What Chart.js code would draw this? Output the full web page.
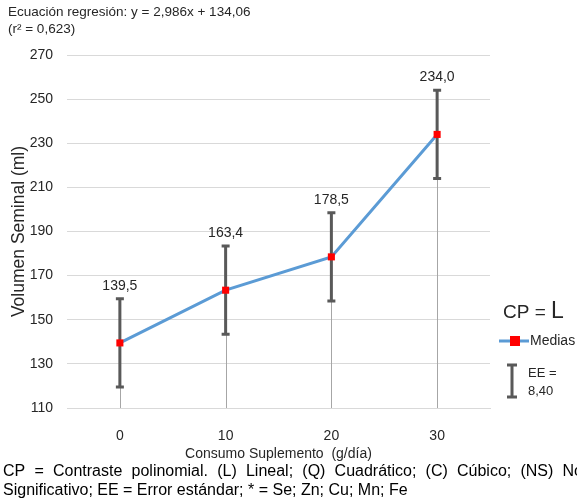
<!DOCTYPE html>
<html lang="es">
<head>
<meta charset="UTF-8">
<title>Volumen Seminal</title>
<script src="https://cdn.jsdelivr.net/npm/chart.js@4.4.1/dist/chart.umd.min.js"></script>
<style>
  body { margin: 0; background: #fff; }
  canvas { display: block; }
</style>
</head>
<body>
<canvas id="myChart" width="577" height="503"></canvas>
<script>
    // data
    const categories = ['0', '10', '20', '30'];
    const medias = [139.5, 163.4, 178.5, 234.0];
    const errorSize = [20, 20, 20, 20];
    const valueLabels = ['139,5', '163,4', '178,5', '234,0'];
    const yMin = 110, yMax = 270, yStep = 20;

    const titleLines = ['Ecuación regresión: y = 2,986x + 134,06', '(r² = 0,623)'];
    const footLine1 = 'CP = Contraste polinomial. (L) Lineal; (Q) Cuadrático; (C) Cúbico; (NS) No';
    const footLine2 = 'Significativo; EE = Error estándar; * = Se; Zn; Cu; Mn; Fe';

    const FONT = '"Liberation Sans", Arial, sans-serif';
    const textColor = '#262626';
    const barColor = '#595959';

    function drawErrorBar(ctx, x, yTop, yBot, cap) {
        ctx.save();
        ctx.strokeStyle = barColor;
        ctx.lineWidth = 3;
        ctx.beginPath();
        ctx.moveTo(x, yTop); ctx.lineTo(x, yBot);
        ctx.moveTo(x - cap, yTop); ctx.lineTo(x + cap, yTop);
        ctx.moveTo(x - cap, yBot); ctx.lineTo(x + cap, yBot);
        ctx.stroke();
        ctx.restore();
    }

    const extras = {
        id: 'extras',
        beforeDatasetsDraw(chart) {
            const ctx = chart.ctx;
            const xs = chart.scales.x, ys = chart.scales.y;
            // drop lines
            ctx.save();
            ctx.strokeStyle = '#a6a6a6';
            ctx.lineWidth = 1;
            medias.forEach((v, i) => {
                const x = Math.round(xs.getPixelForValue(i)) + 0.5;
                ctx.beginPath();
                ctx.moveTo(x, ys.getPixelForValue(v));
                ctx.lineTo(x, chart.chartArea.bottom);
                ctx.stroke();
            });
            ctx.restore();
            // error bars
            medias.forEach((v, i) => {
                const x = xs.getPixelForValue(i);
                drawErrorBar(ctx, x, ys.getPixelForValue(v + errorSize[i]), ys.getPixelForValue(v - errorSize[i]), 4);
            });
        },
        afterDraw(chart) {
            const ctx = chart.ctx;
            const xs = chart.scales.x, ys = chart.scales.y;
            ctx.save();
            ctx.fillStyle = textColor;
            ctx.textAlign = 'center';
            ctx.textBaseline = 'middle';
            ctx.font = '14px ' + FONT;
            medias.forEach((v, i) => {
                ctx.fillText(valueLabels[i], xs.getPixelForValue(i), ys.getPixelForValue(v + errorSize[i]) - 13);
            });

            // regression text
            ctx.textAlign = 'left';
            ctx.font = '13.5px ' + FONT;
            ctx.fillText(titleLines[0], 8, 12);
            ctx.fillText(titleLines[1], 8, 29);

            // legend on the right
            ctx.font = '19px ' + FONT;
            ctx.fillText('CP = ', 503, 313);
            const w = ctx.measureText('CP = ').width;
            ctx.font = '23px ' + FONT;
            ctx.fillText('L', 503 + w, 312);

            ctx.strokeStyle = '#5b9bd5';
            ctx.lineWidth = 3;
            ctx.beginPath();
            ctx.moveTo(499, 341); ctx.lineTo(529, 341);
            ctx.stroke();
            ctx.fillStyle = '#ff0000';
            ctx.fillRect(510, 336, 10, 10);
            ctx.fillStyle = textColor;
            ctx.font = '14px ' + FONT;
            ctx.fillText('Medias', 530, 341);

            drawErrorBar(ctx, 512, 365, 397, 5);
            ctx.fillStyle = textColor;
            ctx.font = '13px ' + FONT;
            ctx.fillText('EE =', 528, 373);
            ctx.fillText('8,40', 528, 391);

            // footnote, first line justified
            ctx.font = '16px ' + FONT;
            ctx.fillStyle = '#000';
            const words = footLine1.split(' ');
            const total = words.reduce((s, t) => s + ctx.measureText(t).width, 0);
            const gap = Math.max(4.4, (583 - 3 - total) / (words.length - 1));
            let px = 3;
            words.forEach(t => {
                ctx.fillText(t, px, 472);
                px += ctx.measureText(t).width + gap;
            });
            ctx.fillText(footLine2, 3, 491);
            ctx.restore();
        }
    };

    const myChart = new Chart('myChart', {
        type: 'line',
        data: {
            labels: categories,
            datasets: [{
                label: 'Medias',
                data: medias,
                borderColor: '#5b9bd5',
                borderWidth: 3,
                pointStyle: 'rect',
                pointRadius: 5,
                pointBackgroundColor: '#ff0000',
                pointBorderColor: '#ff0000',
                pointBorderWidth: 0,
                tension: 0
            }]
        },
        options: {
            responsive: false,
            animation: false,
            layout: { padding: { top: 55, right: 87, bottom: 40, left: 9 } },
            plugins: { legend: { display: false }, tooltip: { enabled: false } },
            scales: {
                x: {
                    offset: true,
                    grid: { display: false },
                    border: { display: true, color: '#d9d9d9' },
                    ticks: { color: textColor, font: { family: FONT, size: 14 }, padding: 12 },
                    title: { display: true, text: 'Consumo Suplemento  (g/día)', color: textColor, font: { family: FONT, size: 14 }, padding: { top: 4, bottom: 0 } },
                    afterFit(s) { s.height = 55; }
                },
                y: {
                    min: yMin,
                    max: yMax,
                    grid: { color: '#d9d9d9', drawTicks: false },
                    border: { display: false },
                    ticks: { stepSize: yStep, color: textColor, font: { family: FONT, size: 14 }, padding: 14 },
                    title: { display: true, text: 'Volumen Seminal (ml)', color: textColor, font: { family: FONT, size: 17.5 }, padding: { top: 0, bottom: 0 } },
                    afterFit(s) { s.width = 58; }
                }
            }
        },
        plugins: [extras]
    });
</script>
</body>
</html>
